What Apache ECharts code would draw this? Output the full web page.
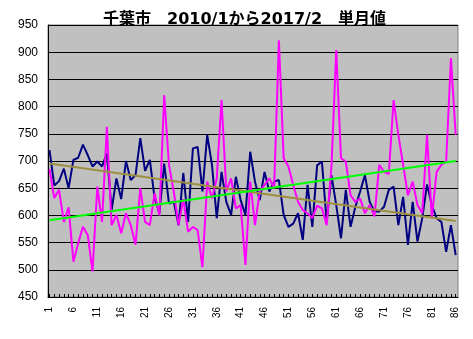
<!DOCTYPE html>
<html>
<head>
<meta charset="utf-8">
<script src="https://cdn.jsdelivr.net/npm/echarts@6/dist/echarts.min.js"></script>
<style>
  html, body { margin: 0; padding: 0; background: #fff; }
  #chart { width: 473px; height: 339px; }
</style>
</head>
<body>
<div id="chart"></div>
<script>
// Monthly values for Chiba city, Jan 2010 (month 1) to Feb 2017 (month 86)
const months = Array.from({ length: 86 }, (_, i) => i + 1);

const seriesA = [
  720, 655, 663, 686, 650, 702, 706, 730, 711, 690,
  699, 690, 714, 610, 668, 630, 700, 665, 674, 742,
  682, 702, 631, 604, 695, 622, 625, 582, 678, 588,
  723, 726, 644, 748, 693, 595, 680, 625, 601, 671,
  628, 601, 717, 662, 628, 680, 644, 662, 665, 601,
  579, 585, 604, 555, 656, 579, 692, 699, 588, 674,
  619, 558, 647, 579, 616, 644, 674, 625, 607, 607,
  616, 647, 653, 582, 634, 546, 625, 552, 595, 657,
  619, 595, 588, 533, 582, 527
];

const seriesB = [
  685, 632, 647, 588, 615, 515, 549, 579, 564, 497,
  653, 588, 763, 582, 601, 567, 604, 582, 546, 650,
  588, 582, 641, 600, 821, 693, 644, 582, 630, 570,
  579, 573, 505, 662, 631, 668, 812, 644, 668, 613,
  619, 509, 662, 582, 644, 656, 668, 650, 922, 705,
  690, 656, 625, 610, 604, 595, 618, 613, 582, 690,
  904, 705, 699, 637, 625, 631, 604, 619, 598, 693,
  680, 676, 812, 748, 693, 637, 662, 619, 604, 748,
  595, 680, 693, 699, 889, 748
];

// Month numbers printed under the axis
const tickLabels = [1, 6, 11, 16, 21, 26, 31, 36, 41, 46, 51, 56, 61, 66, 71, 76, 81, 86];

const yTicks = { min: 450, max: 950, step: 50 };

// Least-squares linear trend over month number
function linearTrend(xs, ys) {
  const n = xs.length;
  let sx = 0, sy = 0, sxx = 0, sxy = 0;
  for (let i = 0; i < n; i++) {
    sx += xs[i]; sy += ys[i];
    sxx += xs[i] * xs[i]; sxy += xs[i] * ys[i];
  }
  const b = (n * sxy - sx * sy) / (n * sxx - sx * sx);
  const a = (sy - b * sx) / n;
  const x0 = xs[0], x1 = xs[n - 1];
  return [[x0, a + b * x0], [x1, a + b * x1]];
}

const pairs = (ys) => months.map((m, i) => [m, ys[i]]);

const chart = echarts.init(document.getElementById('chart'), null, { renderer: 'canvas' });

chart.setOption({
  animation: false,
  backgroundColor: '#ffffff',
  title: {
    text: '千葉市　2010/1から2017/2　単月値',
    left: 98,
    top: 7,
    textStyle: {
      fontFamily: '"DejaVu Sans", "Noto Sans CJK JP", sans-serif',
      fontWeight: 'bold',
      fontSize: 16,
      color: '#000'
    }
  },
  grid: {
    left: 48,
    top: 25,
    width: 410,
    height: 272,
    show: true,
    backgroundColor: '#c0c0c0',
    borderColor: '#808080',
    borderWidth: 1,
    containLabel: false
  },
  xAxis: {
    type: 'value',
    min: 0.686,
    max: 86.48,
    axisLine: { show: true, onZero: false, lineStyle: { color: '#000', width: 1 } },
    axisTick: {
      show: true,
      inside: true,
      length: 3,
      customValues: months,
      lineStyle: { color: '#000', width: 1 }
    },
    axisLabel: {
      customValues: tickLabels,
      rotate: 90,
      margin: 10,
      fontFamily: '"Liberation Sans", Arial, sans-serif',
      fontSize: 10,
      color: '#000'
    },
    splitLine: { show: false }
  },
  yAxis: {
    type: 'value',
    min: yTicks.min,
    max: yTicks.max,
    interval: yTicks.step,
    axisLine: { show: true, lineStyle: { color: '#000', width: 1 } },
    axisTick: { show: false },
    axisLabel: {
      margin: 10,
      fontFamily: '"Liberation Sans", Arial, sans-serif',
      fontSize: 12,
      color: '#000'
    },
    splitLine: { show: true, lineStyle: { color: '#000', width: 1 } }
  },
  series: [
    {
      type: 'line',
      data: pairs(seriesA),
      showSymbol: false,
      lineStyle: { color: '#000080', width: 2 },
      itemStyle: { color: '#000080' },
      z: 2
    },
    {
      type: 'line',
      data: pairs(seriesB),
      showSymbol: false,
      lineStyle: { color: '#ff00ff', width: 2 },
      itemStyle: { color: '#ff00ff' },
      z: 3
    },
    {
      type: 'line',
      data: linearTrend(months, seriesA),
      showSymbol: false,
      lineStyle: { color: '#9c9040', width: 2 },
      z: 4
    },
    {
      type: 'line',
      data: linearTrend(months, seriesB),
      showSymbol: false,
      lineStyle: { color: '#00ff00', width: 2 },
      z: 4
    }
  ]
});
</script>
</body>
</html>
